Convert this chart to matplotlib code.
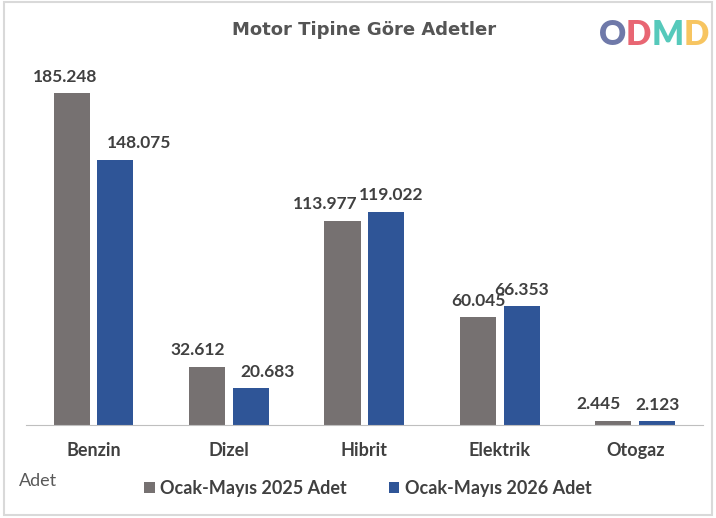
import matplotlib.pyplot as plt
import numpy as np
from matplotlib.patches import Rectangle

categories = ["Benzin", "Dizel", "Hibrit", "Elektrik", "Otogaz"]
adet_2025 = [185248, 32612, 113977, 60045, 2445]
adet_2026 = [148075, 20683, 119022, 66353, 2123]
series_names = ["Ocak-Mayıs 2025 Adet", "Ocak-Mayıs 2026 Adet"]
# manual label nudges (px), as in the original chart
dx_2025 = [-6, -9, -17, 0, -15]
dx_2026 = [24, 17, 5, 0, 0]

def fmt(v):
    return f"{v:,}".replace(",", ".")

plt.rcParams["font.family"] = ["Lato", "DejaVu Sans"]
grey, blue, txt = "#767171", "#2F5597", "#404040"

fig = plt.figure(figsize=(7.16, 5.18), dpi=100)
ax = fig.add_axes([0.036, 0.1795, 0.946, 0.692])
x = np.arange(len(categories))
w = 0.266
b1 = ax.bar(x - 0.162, adet_2025, w, color=grey, label=series_names[0])
b2 = ax.bar(x + 0.162, adet_2026, w, color=blue, label=series_names[1])
for bars, vals, dxs in [(b1, adet_2025, dx_2025), (b2, adet_2026, dx_2026)]:
    for r, v, d in zip(bars, vals, dxs):
        ax.annotate(fmt(v), (r.get_x() + r.get_width() / 2, v), xytext=(d * 0.72, 6),
                    textcoords="offset points", ha="center", va="bottom",
                    fontsize=12.5, fontweight="bold", color=txt)
ax.set_xlim(-0.5, len(categories) - 0.5)
ax.set_ylim(0, 200000)
ax.set_xticks(x)
ax.set_xticklabels(categories, fontsize=13, fontweight="bold", color=txt)
ax.tick_params(axis="x", length=0, pad=12)
ax.set_yticks([])
for s in ["top", "right", "left"]:
    ax.spines[s].set_visible(False)
ax.spines["bottom"].set_color("#BFBFBF")

fig.text(0.508, 0.942, "Motor Tipine Göre Adetler", ha="center", va="center",
         fontsize=13, fontweight="bold", color="#555555", family="DejaVu Sans")
fig.text(0.027, 0.071, "Adet", ha="left", va="center", fontsize=13, color="#595959")
ax.legend(loc="center", bbox_to_anchor=(0.505, -0.176), ncol=2, frameon=False,
          handlelength=0.6, handleheight=0.6, handletextpad=0.3, columnspacing=2.3,
          labelcolor=txt, prop={"weight": "bold", "size": 13})

# logo
logo = [("O", "#56629A", 0.855), ("D", "#E54B5B", 0.892), ("M", "#38C0AF", 0.933), ("D", "#F6BB45", 0.972)]
for ch, c, xx in logo:
    fig.text(xx, 0.932, ch, ha="center", va="center", fontsize=24, fontweight="heavy",
             color=c, alpha=0.85)

fig.patches.append(Rectangle((0.006, 0.006), 0.988, 0.99, transform=fig.transFigure,
                             fill=False, edgecolor="#D9D9D9", linewidth=1.5))
fig.savefig("out.png", dpi=100)
